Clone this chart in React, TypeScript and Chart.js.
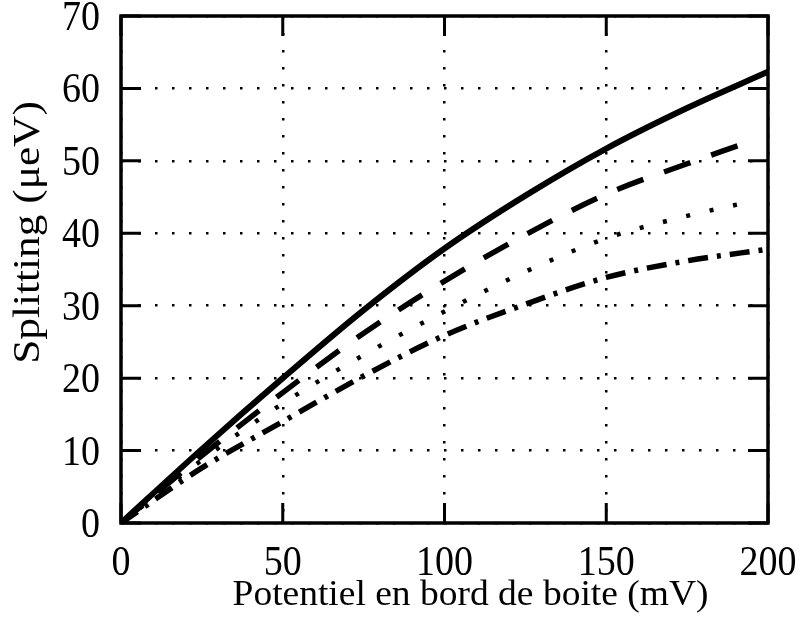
import React, { useEffect, useRef } from "react";
import { Chart, registerables } from "chart.js";

Chart.register(...registerables);

const xValues = [0, 25, 50, 75, 100, 125, 150, 175, 200];
const solidSeries = [0, 10.2, 20, 29.4, 37.9, 45.2, 51.7, 57.3, 62.3];
const dashedX = [0, 25, 50, 75, 100, 125, 150, 175, 192];
const dashedSeries = [0, 9.3, 18, 26.2, 33.4, 39.8, 45.4, 49.6, 52.3];
const dottedX = [0, 25, 50, 75, 100, 125, 150, 175, 196];
const dottedSeries = [0, 8.7, 16.5, 23.2, 29.2, 34.7, 39.3, 42.4, 44.5];
const dashDotSeries = [0, 7.6, 14, 20.3, 25.9, 30.2, 33.9, 36.2, 37.8];

const xTicks = [0, 50, 100, 150, 200];
const yTicks = [0, 10, 20, 30, 40, 50, 60, 70];

const xTitle = "Potentiel en bord de boite (mV)";
const yTitle = "Splitting (\u03bceV)";

const FONT = "'Liberation Serif', 'Times New Roman', serif";

function pts(xs: number[], ys: number[]) {
  return xs.map((x, i) => ({ x, y: ys[i] }));
}

function stretchedText(ctx: any, text: string, x: number, y: number, align: string, sx: number, sy: number, rot = 0) {
  ctx.save();
  ctx.translate(x, y);
  if (rot) ctx.rotate(rot);
  ctx.scale(sx, sy);
  ctx.textAlign = align;
  ctx.textBaseline = "alphabetic";
  ctx.fillText(text, 0, 0);
  ctx.restore();
}

const framePlugin = {
  id: "frame",
  afterDraw(chart: any) {
    const { ctx, chartArea, scales } = chart;
    const { left, right, top, bottom } = chartArea;
    const tl = 20;
    ctx.save();
    ctx.strokeStyle = "#000";
    ctx.lineWidth = 3;
    ctx.setLineDash([]);
    ctx.lineCap = "butt";
    ctx.beginPath();
    for (const v of xTicks) {
      const px = scales.x.getPixelForValue(v);
      ctx.moveTo(px, bottom);
      ctx.lineTo(px, bottom - tl);
      ctx.moveTo(px, top);
      ctx.lineTo(px, top + tl);
    }
    for (const v of yTicks) {
      const py = scales.y.getPixelForValue(v);
      ctx.moveTo(left, py);
      ctx.lineTo(left + tl, py);
      ctx.moveTo(right, py);
      ctx.lineTo(right - tl, py);
    }
    ctx.stroke();
    ctx.lineWidth = 3.5;
    ctx.strokeRect(left, top, right - left, bottom - top);

    // tick labels
    ctx.fillStyle = "#000";
    ctx.font = `38px ${FONT}`;
    for (const v of xTicks) {
      const px = scales.x.getPixelForValue(v);
      stretchedText(ctx, String(v), px, bottom + 52, "center", 1, 1.1);
    }
    for (const v of yTicks) {
      const py = scales.y.getPixelForValue(v);
      stretchedText(ctx, String(v), left - 21, py + 14, "right", 1, 1.1);
    }
    // axis titles
    ctx.font = `37.5px ${FONT}`;
    stretchedText(ctx, xTitle, (left + right) / 2 + 26, bottom + 81.5, "center", 1, 0.95);
    ctx.font = `38px ${FONT}`;
    stretchedText(ctx, yTitle, 39, (top + bottom) / 2 - 37, "center", 1.14, 1, -Math.PI / 2);
    ctx.restore();
  },
};

export default function App() {
  const ref = useRef<HTMLCanvasElement | null>(null);
  useEffect(() => {
    document.body.style.margin = "0";
    const canvas = ref.current;
    if (!canvas) return;
    const lineBase = {
      pointRadius: 0,
      borderColor: "#000",
      fill: false,
      cubicInterpolationMode: "monotone" as const,
      borderCapStyle: "butt" as const,
    };
    const chart = new Chart(canvas, {
      type: "line",
      data: {
        datasets: [
          { ...lineBase, label: "a", data: pts(xValues, solidSeries), borderWidth: 6 },
          { ...lineBase, label: "b", data: pts(dashedX, dashedSeries), borderWidth: 5.5, borderDash: [28, 22] },
          { ...lineBase, label: "c", data: pts(dottedX, dottedSeries), borderWidth: 4.5, borderDash: [4, 20] },
          { ...lineBase, label: "d", data: pts(xValues, dashDotSeries), borderWidth: 5.5, borderDash: [20, 9, 4, 9] },
        ],
      },
      options: {
        responsive: false,
        animation: false,
        devicePixelRatio: 1,
        layout: { padding: { left: 0, right: 39, top: 16, bottom: 0 } },
        plugins: { legend: { display: false }, tooltip: { enabled: false } },
        scales: {
          x: {
            type: "linear",
            min: 0,
            max: 200,
            afterFit: (s: any) => {
              s.height = 96;
              s.paddingLeft = 0;
              s.paddingRight = 0;
            },
            afterBuildTicks: (s: any) => { s.ticks = xTicks.map((v) => ({ value: v })); },
            ticks: { display: false },
            grid: { color: "#000", lineWidth: 2.5, drawTicks: false },
            border: { display: false, dash: [2.5, 14.5] },
            title: { display: false, text: xTitle },
          },
          y: {
            type: "linear",
            min: 0,
            max: 70,
            afterFit: (s: any) => {
              s.width = 121;
              s.paddingTop = 0;
              s.paddingBottom = 0;
            },
            afterBuildTicks: (s: any) => { s.ticks = yTicks.map((v) => ({ value: v })); },
            ticks: { display: false },
            grid: { color: "#000", lineWidth: 2.5, drawTicks: false },
            border: { display: false, dash: [2.5, 14.5] },
            title: { display: false, text: yTitle },
          },
        },
      },
      plugins: [framePlugin],
    });
    return () => chart.destroy();
  }, []);
  return (
    <div style={{ position: "fixed", left: 0, top: 0, width: 807, height: 619, background: "#fff" }}>
      <canvas ref={ref} width={807} height={619} />
    </div>
  );
}
